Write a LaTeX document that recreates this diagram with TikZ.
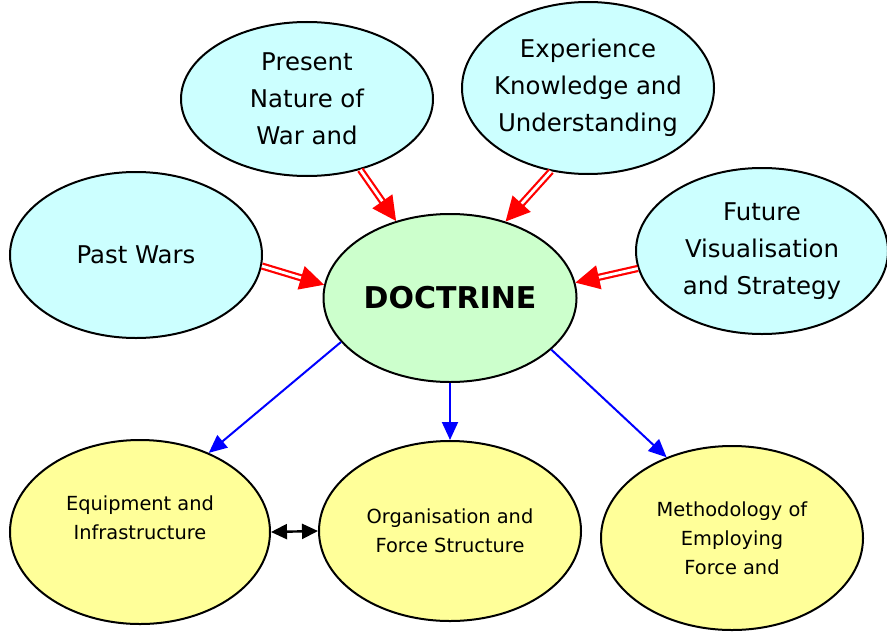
\documentclass[tikz,border=0pt]{standalone}
\usepackage{fontspec}
\setmainfont{DejaVu Sans}
\usetikzlibrary{shapes.geometric,arrows.meta}
\definecolor{incyan}{HTML}{CCFFFF}
\definecolor{coregreen}{HTML}{CCFFCC}
\definecolor{outyellow}{HTML}{FFFF99}
\begin{document}
\begin{tikzpicture}[x=0.5pt,y=-0.5pt,
    bubble/.style={ellipse, draw, line width=1pt, inner sep=0pt, align=center},
    input/.style={bubble, fill=incyan, minimum width=126pt, minimum height=83pt, font=\fontsize{12.2}{18.5}\selectfont},
    output/.style={bubble, fill=outyellow, minimum width=131pt, minimum height=92pt, font=\fontsize{9.7}{14.5}\selectfont},
    feed/.style={draw=red, double=white, double distance=1.4pt, line width=1.1pt, -{Triangle[length=12pt,width=12pt]}},
    flow/.style={blue, line width=1pt, -{Triangle[length=9pt,width=8pt]}},
    link/.style={line width=1.2pt, {Triangle[length=8pt,width=7.5pt]}-{Triangle[length=8pt,width=7.5pt]}}]
  \useasboundingbox (0,0) rectangle (887,631);
  % what doctrine draws on
  \node[input] (past) at (136,255) {Past Wars};
  \node[input, minimum height=77pt] (nature) at (307,99) {Present\\Nature of\\War and};
  \node[input, minimum height=86pt, inner xsep=-15pt] (exp) at (588,88) {Experience\\Knowledge and\\Understanding};
  \node[input] (future) at (762,251) {Future\\Visualisation\\and Strategy};
  \node[bubble, fill=coregreen, minimum width=126.5pt, minimum height=84pt, font=\fontsize{15}{16}\selectfont\bfseries] (doctrine) at (450,298) {DOCTRINE};
  % what doctrine shapes
  \node[output, minimum width=130pt, text depth=14pt] (equip) at (140,532) {Equipment and\\Infrastructure};
  \node[output, minimum height=90pt] (org) at (450,531) {Organisation and\\Force Structure};
  \node[output] (method) at (732,538) {Methodology of\\Employing\\Force and};
  \draw[feed] (past.355) -- (doctrine.174);
  \draw[feed] (nature.307) -- (doctrine.125);
  \draw[feed] (exp.246) -- (doctrine.54);
  \draw[feed] (future.188) -- (doctrine.7);
  \draw[flow] (doctrine.202) -- (equip.49);
  \draw[flow] (doctrine.south) -- (org.north);
  \draw[flow] (doctrine.333) -- (method.129);
  \draw[link] (equip.east) -- (org.west);
\end{tikzpicture}
\end{document}
